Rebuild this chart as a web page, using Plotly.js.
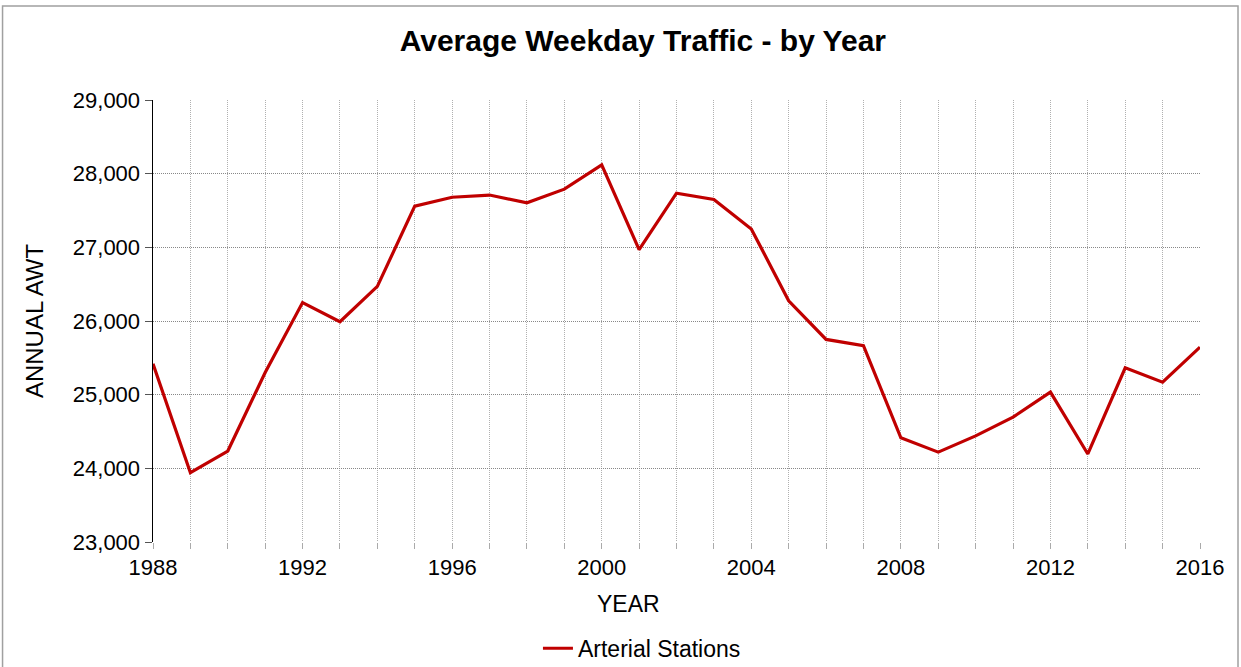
<!DOCTYPE html>
<html>
<head>
<meta charset="utf-8">
<script src="https://cdn.plot.ly/plotly-3.0.1.min.js"></script>
<style>html,body{margin:0;padding:0;background:#fff;}#chart{width:1241px;height:667px;}</style>
</head>
<body>
<div id="chart"></div>
<script>
const years = [1988,1989,1990,1991,1992,1993,1994,1995,1996,1997,1998,1999,2000,2001,2002,2003,2004,2005,2006,2007,2008,2009,2010,2011,2012,2013,2014,2015,2016];
const arterialAWT = [25420,23940,24235,25300,26250,25990,26470,27560,27680,27710,27605,27790,28120,26970,27735,27650,27250,26275,25750,25665,24415,24220,24440,24695,25035,24195,25365,25170,25645];
const seriesName = "Arterial Stations";
const chartTitle = "Average Weekday Traffic - by Year";
const xTitle = "YEAR";
const yTitle = "ANNUAL AWT";

const trace = {
  x: years, y: arterialAWT, name: seriesName, type: 'scatter', mode: 'lines',
  line: {color: '#C00000', width: 3.2}
};
const layout = {
  width: 1241, height: 667,
  margin: {l: 153, r: 41, t: 100, b: 125, autoexpand: false},
  paper_bgcolor: '#fff', plot_bgcolor: '#fff',
  font: {family: 'Liberation Sans, Arial, sans-serif', color: '#000', size: 22},
  title: {text: '<b>' + chartTitle + '</b>', x: 0.518, xanchor: 'center', yref: 'container', y: 0.94, yanchor: 'middle', font: {size: 30}},
  showlegend: true,
  legend: {orientation: 'h', x: 0.467, xanchor: 'center', yref: 'container', y: 0.028, yanchor: 'middle', font: {size: 23}},
  annotations: [{text: xTitle, xref: 'paper', x: 0.4546, xanchor: 'center', yref: 'paper', y: -0.1403, yanchor: 'middle', showarrow: false, font: {size: 23}}],
  xaxis: {
    range: [1988, 2016], tick0: 1988, dtick: 4, tickmode: 'linear',
    showgrid: true, gridcolor: '#b0b0b0', griddash: '1px,1px', gridwidth: 1,
    minor: {dtick: 1, tick0: 1988, showgrid: true, gridcolor: '#b0b0b0', griddash: '1px,1px', ticks: 'outside', ticklen: 6, tickcolor: '#aaa'},
    ticks: 'outside', ticklen: 6, tickcolor: '#aaa',
    showline: false,
    zeroline: false, tickfont: {size: 22}
  },
  yaxis: {
    range: [23000, 29000], dtick: 1000, tickformat: ',d',
    showgrid: true, gridcolor: '#888', griddash: '1px,1px', gridwidth: 1,
    ticks: 'outside', ticklen: 7, tickcolor: '#555',
    showline: true, linecolor: '#000', linewidth: 1.5,
    zeroline: false, tickfont: {size: 22},
    title: {text: yTitle, font: {size: 24}, standoff: 22}
  },
  shapes: [{type: 'rect', xref: 'paper', yref: 'paper', x0: -0.1437, x1: 1.0363, y0: -0.35, y1: 1.2127, line: {color: '#a0a0a0', width: 1.5}, fillcolor: 'rgba(0,0,0,0)', layer: 'below'}]
};
Plotly.newPlot('chart', [trace], layout, {displayModeBar: false, staticPlot: true});
</script>
</body>
</html>
